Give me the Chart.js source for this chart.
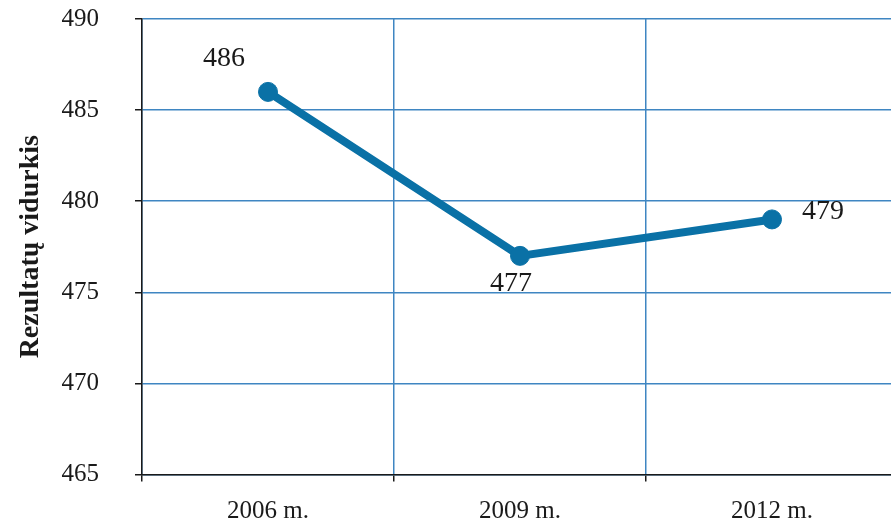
<!DOCTYPE html>
<html>
<head>
<meta charset="utf-8">
<script src="https://cdn.jsdelivr.net/npm/chart.js@4/dist/chart.umd.min.js"></script>
<style>
  html, body { margin: 0; padding: 0; background: #fff; overflow: hidden; }
  #c { display: block; width: 898px; height: 523px; }
</style>
</head>
<body>
<canvas id="c" width="898" height="523"></canvas>
<script>
// PISA rezultatų vidurkiai
const years = ['2006 m.', '2009 m.', '2012 m.'];
const scores = [486, 477, 479];
const yTicks = [465, 470, 475, 480, 485, 490];

const SERIF = '"Liberation Serif", "DejaVu Serif", serif';
const LINE = '#0a71a6';
const GRID = '#3f86c2';
const INK = '#1a1a1a';

// value labels next to each point
const valueLabels = {
  id: 'valueLabels',
  afterDatasetsDraw(chart) {
    const offsets = [[-44, -33], [-9, 28], [51, -8]];
    const meta = chart.getDatasetMeta(0);
    const ctx = chart.ctx;
    ctx.save();
    ctx.font = '28px ' + SERIF;
    ctx.fillStyle = INK;
    ctx.textAlign = 'center';
    ctx.textBaseline = 'middle';
    meta.data.forEach((pt, i) => {
      const v = chart.data.datasets[0].data[i];
      ctx.fillText(String(v), pt.x + offsets[i][0], pt.y + offsets[i][1]);
    });
    ctx.restore();
  }
};

new Chart(document.getElementById('c'), {
  type: 'line',
  data: {
    labels: years,
    datasets: [{
      data: scores,
      borderColor: LINE,
      backgroundColor: LINE,
      borderWidth: 8,
      pointRadius: 9.5,
      pointBorderWidth: 1,
      pointBackgroundColor: LINE,
      pointBorderColor: LINE,
      tension: 0,
      fill: false
    }]
  },
  options: {
    responsive: false,
    animation: false,
    devicePixelRatio: 1,
    layout: { autoPadding: false, padding: { top: 19, right: 0, left: 0, bottom: 0 } },
    plugins: { legend: { display: false }, tooltip: { enabled: false } },
    scales: {
      x: {
        offset: true,
        grid: {
          offset: true,
          color: GRID,
          lineWidth: 1.5,
          tickColor: INK,
          tickWidth: 1.5,
          tickLength: 7,
          drawOnChartArea: true
        },
        border: { color: INK, width: 1.5 },
        ticks: {
          color: INK,
          font: { family: SERIF, size: 25 },
          padding: 15
        },
        afterFit(s) {
          s.height = 48.5;
          s.paddingLeft = 0;
          s.paddingRight = 0;
        }
      },
      y: {
        min: 465,
        max: 490,
        afterBuildTicks(s) { s.ticks = yTicks.map(v => ({ value: v })); },
        grid: {
          color: GRID,
          lineWidth: 1.5,
          tickColor: INK,
          tickWidth: 1.5,
          tickLength: 7
        },
        border: { color: INK, width: 1.5 },
        ticks: {
          color: INK,
          font: { family: SERIF, size: 25 },
          padding: 36
        },
        title: {
          display: true,
          text: 'Rezultatų vidurkis',
          color: INK,
          font: { family: SERIF, size: 28, weight: 'bold' },
          padding: { top: 14, bottom: 0 }
        },
        afterFit(s) {
          s.width = 142;
          s.paddingTop = 0;
          s.paddingBottom = 0;
        }
      }
    }
  },
  plugins: [valueLabels]
});
</script>
</body>
</html>
